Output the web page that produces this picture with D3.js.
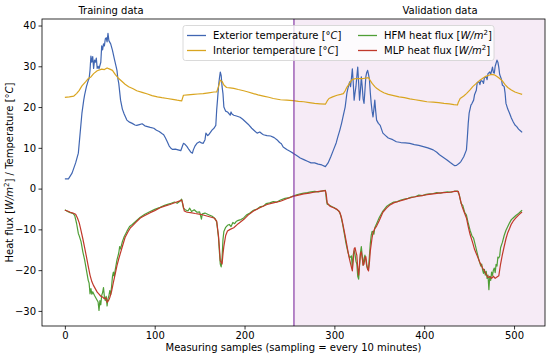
<!DOCTYPE html>
<html><head><meta charset="utf-8">
<script src="https://cdn.jsdelivr.net/npm/d3@7"></script>
<style>body{margin:0;background:#fff}svg{display:block;font-family:"DejaVu Sans",sans-serif}</style>
</head><body><svg id="c" width="550" height="357"></svg>
<script>
// ---------- data ----------
const extX=[0,4,8,12,15,17,19,21,22,24,26,27,28,29,30,31,32,33,34,35,36,37,38,40,41,42,43,44,45,46,47,48,49,51,53,55,57,58,59,60,62,64,66,69,72,75,78,80,83,86,89,92,95,99,102,105,108,110,112,114,116,118,120,123,126,129,131,132,134,136,138,140,142,143,145,147,150,152,154,156,157,159,160,162,164,166,168,169,170,171,172,173,174,175,176,177,179,181,183,184,185,186,188,191,195,198,201,204,208,211,214,217,219,221,225,229,233,236,239,241,243,247,251,254,258,262,266,270,274,278,282,286,290,293,296,299,302,304,306,308,310,312,314,315,317,318,319,320,321,322,323,324,325,326,327,328,329,330,331,332,333,334,335,336,337,338,339,340,341,342,343,344,345,346,347,349,351,354,357,360,365,369,374,379,384,389,394,399,404,410,414,417,421,425,429,432,434,436,439,441,444,447,448,449,450,452,453,455,456,458,459,461,462,463,465,466,467,469,470,471,473,474,476,477,478,479,481,482,483,484,486,487,489,490,491,493,495,497,499,501,503,505,508,509];
const extY=[2.4,2.4,3.8,6.3,8.7,13.6,18.5,21.7,23,25,26.5,27,29,32.5,31,32.4,29.5,31.5,31,32,29.5,30,29.4,31,35,34,35.5,35,36.7,37,36,38.1,36.3,35.5,33.9,31.9,30,29,27,25.8,21.7,19.5,18.3,16.8,16.3,16,15.6,15.5,15.7,15.9,15.4,15.2,15,14.8,14.3,14,13.5,13.2,12.4,11.5,10.5,9.9,9.6,9.7,9.5,9.3,10.5,11.1,10.8,10.3,9.6,9,8.7,9.5,10.5,11.1,11.5,11.2,11.1,12,13.6,13,13.2,13.8,14.4,14.8,15.5,19.3,22,25,27,28.6,27.7,25,23.3,20,19,18.8,18.3,18,18.8,18.3,18,17.8,17.5,17,16.4,15.8,14.8,14.2,13.6,13.9,13.5,13.2,13,12.9,12.5,12,11.3,11,10.2,9.6,9.1,8.7,8.1,7.5,7.1,6.7,6.3,6.3,6,5.8,5.4,6.3,7.8,9.5,11.2,12.8,14.3,16,18,20,23.5,24.5,26.2,25,27,29.4,26,21.7,23.5,25,27.5,29.8,26,21.7,24,27.4,25,22,20.9,24,27.4,28.5,29,28,26.8,23.5,20.9,19,17.6,19.5,21.7,19,16.8,16,15.5,13.6,13,12.4,12,11.5,11.3,11.2,11.1,10.8,10.6,10.3,10,9.5,8.9,8.3,7.7,7.1,6.4,5.9,5.6,5.7,6.2,6.7,7.8,9.5,12.5,16,18.5,20.5,20.8,21.7,23,24.1,26,26.2,25.5,26.5,26.3,25.8,27.2,27.4,26.7,28.2,28.6,28,29.8,28.5,28.3,30,31.5,31,29.8,28,26.8,25.4,25,23.5,20.9,19.5,18.5,17.3,16.4,15.6,15.2,14.6,14,13.8];

const intX=[0,5,10,13,16,19,23,26,29,32,36,41,44,47,50,53,56,59,64,67,71,76,80,86,92,97,103,108,114,120,125,128,130,131,132,137,143,148,154,160,166,169,171,173,175,177,180,184,188,193,199,204,210,215,221,227,232,240,247,254,260,266,272,278,284,290,292,294,298,303,307,310,312,314,316,319,322,325,329,332,335,338,340,342,345,347,351,355,360,366,372,378,384,390,396,403,410,416,422,428,433,437,438,440,444,447,451,454,458,462,466,469,472,475,478,481,484,487,490,493,497,501,505,509];
const intY=[22.4,22.5,22.7,23.3,24.1,25.2,26.2,27,27.4,28.2,28.9,29.3,29.2,29.6,29.3,29,28,27.2,26.2,25.6,25,24.5,24,23.6,23.2,22.8,22.5,22.3,22.1,21.9,21.7,21.6,21.5,22.2,22.9,23,23.1,23.2,23.3,23.5,23.7,23.7,25,26.6,26.3,25.4,24.8,24.7,24.6,24.3,24,23.7,23.3,23,22.7,22.4,22.1,21.8,21.7,21.6,21.4,21.3,21.1,20.9,20.8,20.7,21.5,22.1,22.5,22.9,23.1,23.3,24,24.9,25.5,26.6,26.9,27,27,27,27.1,27.2,26.5,25.8,25,24.6,24,23.5,23.1,22.8,22.5,22.3,22,21.8,21.6,21.3,21.2,21.1,20.9,20.8,20.6,20.5,21.2,22.1,22.7,23.3,24.2,25,25.8,26.6,27.2,27.6,27.8,28,27.9,27.5,27,26.4,25.5,24.8,24.2,23.7,23.4,23.1];

const hfmX=[0,3,6,9,11,13,15,16,18,20,22,24,26,27,28,29,30,31,33,35,37,38,39,40,41,42,43,44,45,46,47,48,49,50,51,52,53,54,55,56,58,60,61,62,64,66,69,72,75,79,84,89,95,100,106,111,117,122,125,128,130,132,134,137,139,141,144,147,150,152,153,156,160,164,167,169,171,172,173,174,175,176,177,179,181,183,185,187,189,191,193,196,199,202,206,210,214,217,221,224,228,232,236,240,245,250,254,258,262,266,270,274,278,282,286,290,291,292,294,297,300,303,305,307,309,311,313,315,317,319,320,321,322,323,324,325,326,327,328,329,330,331,332,333,334,335,336,337,338,339,340,341,342,343,344,345,347,350,354,358,362,366,370,374,378,382,386,390,394,398,402,406,410,414,418,422,426,430,434,437,439,441,443,445,447,449,451,453,455,457,459,461,463,464,465,466,467,468,469,470,471,472,473,474,475,476,477,478,479,480,481,482,483,484,485,487,489,491,493,495,497,499,502,505,508,509];
const hfmY=[-5.2,-5.6,-5.9,-6.1,-6.6,-8.5,-11,-11.6,-13,-15.5,-17.5,-20,-22.5,-23.2,-25.8,-24.5,-25.9,-25.3,-26.2,-27,-27.8,-29.9,-27.5,-28.5,-26.2,-25.5,-24.3,-26.5,-27.5,-26.4,-28.8,-27,-26.3,-25,-26,-24,-21.5,-20.5,-21.5,-20,-17.5,-15.8,-14.2,-14.8,-13,-11.8,-10.5,-9.3,-8.8,-8,-7,-6.3,-5.6,-5.1,-4.6,-4.1,-3.7,-3.3,-3.6,-3.1,-2.6,-4.8,-5.2,-5.5,-4.8,-5.6,-5.2,-5.8,-5.7,-7.5,-6.2,-6,-6.4,-6.8,-7.3,-8.2,-12,-15.5,-18.5,-19.2,-17,-12.5,-10.5,-9.5,-9,-8.8,-9.3,-8.3,-8.6,-8,-7.8,-7.6,-7.2,-6.5,-6,-5.3,-5,-4.5,-4.3,-3.7,-3.5,-3.2,-3.3,-2.8,-2.4,-2.2,-1.8,-1.5,-1.3,-1.1,-1,-0.8,-0.7,-0.8,-0.6,-0.4,-2.5,-3.8,-4,-4.4,-4.7,-5.2,-5.5,-6.5,-8.5,-11,-13.5,-15.5,-17,-16.5,-19.5,-16.2,-15.2,-16.2,-17.8,-18.5,-21.5,-22.2,-19,-15.8,-14.2,-16.5,-18.8,-17.2,-16.3,-17.5,-19,-19.8,-19.5,-16.5,-13.5,-11.5,-10.5,-10.6,-11.2,-9.6,-8.6,-7.1,-5.5,-4.4,-3.8,-3.3,-3.2,-2.8,-2.6,-2.4,-2.1,-2,-1.6,-1.7,-1.4,-1.3,-1.2,-1,-1.1,-0.9,-0.8,-0.9,-0.6,-0.6,-1.5,-3.6,-4.2,-5.8,-6.5,-8.5,-10.2,-11.5,-12.2,-14,-15.8,-17.6,-19,-18.5,-20,-20.8,-19.8,-21.2,-20.3,-22,-21.2,-24.8,-21.5,-22.5,-20.5,-21.3,-20,-19.5,-20.6,-18.6,-19,-16.8,-17,-16.5,-14.5,-13.2,-11.5,-10.2,-9.3,-8.4,-7.6,-7.2,-6.6,-6.1,-5.5,-5.3];

const mlpX=[0,3,6,9,12,14,16,18,20,22,24,26,28,30,32,34,36,38,40,42,44,46,47,48,49,50,52,54,56,58,60,62,64,67,70,73,75,79,84,89,95,100,106,111,117,123,128,130,131,133,136,140,145,151,156,161,166,169,171,172,173,175,176,177,179,181,184,188,193,199,204,210,217,225,232,240,247,254,260,266,272,277,283,290,291,292,295,299,303,306,308,310,312,314,316,318,320,321,322,323,324,325,326,327,328,329,330,331,332,333,334,335,336,337,338,339,340,342,343,345,347,350,354,358,362,366,372,378,384,390,396,403,410,416,422,428,434,438,440,442,444,447,449,451,454,456,459,462,465,467,469,471,473,475,477,479,481,483,485,487,489,491,493,495,497,499,502,505,508,509];
const mlpY=[-5.3,-5.5,-5.8,-6,-6.3,-7.2,-8.4,-10.3,-12.3,-14.5,-16.7,-19,-21.2,-22.8,-23.8,-24.6,-25.4,-25.9,-26.4,-26.6,-27,-26.8,-27.9,-27.6,-27.3,-26.7,-25.2,-23,-21,-18.9,-17.2,-15.7,-14.2,-12,-10.7,-9.6,-9.2,-8.3,-7.2,-6.6,-5.9,-5.4,-4.7,-4.3,-3.9,-3.4,-3,-2.8,-3.5,-5.5,-5.8,-5.9,-6.1,-6.3,-6.6,-6.9,-7.2,-8,-11.6,-14.5,-17.7,-18.5,-16,-14.1,-11.5,-10.4,-10,-9.6,-8.6,-7.6,-6.5,-5.5,-4.7,-3.9,-3.5,-3.1,-2.5,-1.9,-1.6,-1.3,-1.1,-0.9,-0.7,-0.5,-1.5,-3.5,-4.3,-4.7,-5.1,-5.8,-7.2,-9.3,-11.6,-14,-16.5,-18.4,-20.2,-17.5,-14.8,-14.5,-15.5,-16.4,-19.5,-21.2,-18.5,-16,-15.5,-17,-18.8,-18.5,-17,-16.7,-18.5,-19.7,-20.2,-18.2,-15.3,-12,-10.8,-9.8,-9.2,-7.8,-5.8,-4.8,-4,-3.5,-3.1,-2.7,-2.3,-2,-1.8,-1.5,-1.3,-1.1,-1,-0.9,-0.7,-0.7,-2.5,-4.3,-5.5,-7.2,-9.3,-11.2,-13.3,-14.9,-16.5,-18.1,-19.5,-20.2,-21,-21.8,-21.6,-22,-21.5,-22,-21.7,-21.4,-18.5,-16.2,-14.2,-12.3,-10.8,-9.8,-8.7,-8,-7.2,-6.5,-5.9,-5.8];

const xTicks=[0,100,200,300,400,500];
const yTicks=[-30,-20,-10,0,10,20,30,40];
const splitSample=255;

// ---------- layout ----------
const L=42,R=545,T=19,B=326,FS=10;
const svg=d3.select("#c");
const x=d3.scaleLinear().domain([-25.45,534.45]).range([L,R]);
const y=d3.scaleLinear().domain([-33.7,41.6]).range([B,T]);
const colors={ext:"#4066b2",int:"#d9a520",hfm:"#4f9e36",mlp:"#c0392b"};

// validation shading
svg.append("rect").attr("x",x(splitSample)).attr("y",T).attr("width",R-x(splitSample)).attr("height",B-T).attr("fill","#f6ebf6");

const line=(xs,ys)=>d3.line().x((d,i)=>x(xs[i])).y((d,i)=>y(ys[i]))(ys);
const g=svg.append("g");
function draw(xs,ys,c){g.append("path").attr("d",line(xs,ys)).attr("fill","none").attr("stroke",c).attr("stroke-width",1.2).attr("stroke-linejoin","round");}
draw(extX,extY,colors.ext);
draw(intX,intY,colors.int);
draw(hfmX,hfmY,colors.hfm);
draw(mlpX,mlpY,colors.mlp);

// split line
svg.append("line").attr("x1",x(splitSample)).attr("x2",x(splitSample)).attr("y1",T).attr("y2",B).attr("stroke-width",1.1).attr("stroke","#7d2a9e");

// axes
const fmt=d=>d<0?"\u2212"+Math.abs(d):String(d);
const xa=svg.append("g").attr("transform",`translate(0,${B})`).call(d3.axisBottom(x).tickValues(xTicks).tickFormat(fmt).tickSize(3.5).tickPadding(2.5));
const ya=svg.append("g").attr("transform",`translate(${L},0)`).call(d3.axisLeft(y).tickValues(yTicks).tickFormat(fmt).tickSize(3.5).tickPadding(2.5));
[xa,ya].forEach(a=>{a.select(".domain").remove();a.selectAll("text").attr("font-size",FS).attr("fill","#000").attr("font-family","DejaVu Sans");a.selectAll("line").attr("stroke","#000").attr("stroke-width",0.8);});
svg.append("rect").attr("x",L).attr("y",T).attr("width",R-L).attr("height",B-T).attr("fill","none").attr("stroke","#000").attr("stroke-width",0.8);

// labels
svg.append("text").attr("x",(L+R)/2).attr("y",351).attr("text-anchor","middle").attr("font-size",FS).text("Measuring samples (sampling = every 10 minutes)");
const yl=svg.append("text").attr("transform",`translate(13,${(T+B)/2}) rotate(-90)`).attr("text-anchor","middle").attr("font-size",FS);
yl.append("tspan").text("Heat flux [");
yl.append("tspan").attr("font-style","italic").text("W/m");
yl.append("tspan").attr("font-size",7).attr("dy",-3.7).text("2");
yl.append("tspan").attr("dy",3.7).text("] / Temperature [°");
yl.append("tspan").attr("font-style","italic").text("C");
yl.append("tspan").text("]");
svg.append("text").attr("x",111).attr("y",13.5).attr("text-anchor","middle").attr("font-size",FS).text("Training data");
svg.append("text").attr("x",440).attr("y",13.5).attr("text-anchor","middle").attr("font-size",FS).text("Validation data");

// legend
const lg=svg.append("g");
lg.append("rect").attr("x",183).attr("y",25.5).attr("width",311).attr("height",35).attr("rx",2.5).attr("fill","#fff").attr("fill-opacity",0.8).attr("stroke","#d0d0d0").attr("stroke-width",0.8);
const items=[
 {c:colors.ext,x:187,y:35.5,parts:[["Exterior temperature [°",0],["C",1],["]",0]]},
 {c:colors.int,x:187,y:50.5,parts:[["Interior temperature [°",0],["C",1],["]",0]]},
 {c:colors.hfm,x:358,y:35.5,parts:[["HFM heat flux [",0],["W/m",1],["2",2],["]",3]]},
 {c:colors.mlp,x:358,y:50.5,parts:[["MLP heat flux [",0],["W/m",1],["2",2],["]",3]]}];
items.forEach(it=>{
  lg.append("line").attr("x1",it.x).attr("x2",it.x+19).attr("y1",it.y).attr("y2",it.y).attr("stroke",it.c).attr("stroke-width",1.3);
  const t=lg.append("text").attr("x",it.x+26).attr("y",it.y+3.6).attr("font-size",FS);
  it.parts.forEach(p=>{const s=t.append("tspan").text(p[0]);
    if(p[1]===1)s.attr("font-style","italic");
    if(p[1]===2)s.attr("font-size",7).attr("dy",-3.7);
    if(p[1]===3)s.attr("dy",3.7);});
});
</script></body></html>
